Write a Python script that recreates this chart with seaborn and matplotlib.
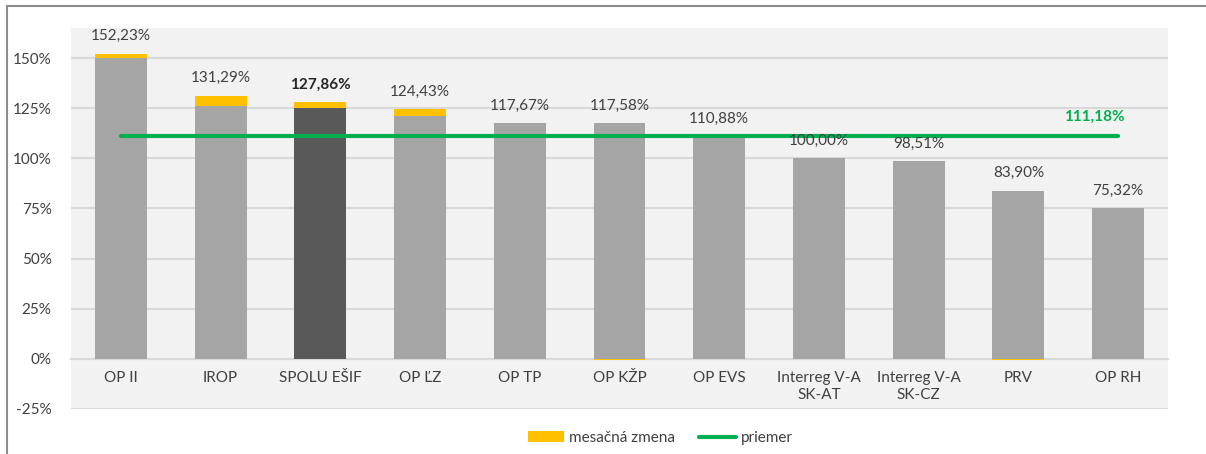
import numpy as np
import seaborn as sns
import matplotlib.pyplot as plt
from matplotlib.lines import Line2D
from matplotlib.patches import Patch

# data (values in %)
programs = ["OP II", "IROP", "SPOLU EŠIF", "OP ĽZ", "OP TP", "OP KŽP", "OP EVS",
            "Interreg V-A\nSK-AT", "Interreg V-A\nSK-CZ", "PRV", "OP RH"]
totals = [152.23, 131.29, 127.86, 124.43, 117.67, 117.58, 110.88, 100.00, 98.51, 83.90, 75.32]
monthly_change = [2.1, 5.0, 2.6, 3.1, 0.0, -0.8, 0.0, 0.0, 0.0, -0.8, 0.0]
average = 111.18
total_label = "SPOLU EŠIF"

GRAY = "#a5a5a5"
DARK = "#595959"
YELLOW = "#ffc000"
GREEN = "#00b050"
BG = "#f2f2f2"
GRID = "#d9d9d9"
TEXT = "#404040"

sns.set_theme(style="white")
plt.rcParams["font.family"] = ["Lato", "DejaVu Sans"]

tot = np.array(totals)
chg = np.array(monthly_change)
base = tot - np.clip(chg, 0, None)
neg = np.clip(chg, None, 0)

fig = plt.figure(figsize=(12.06, 4.54), dpi=100)
ax = fig.add_axes([71 / 1206, 1 - 409 / 454, (1168 - 71) / 1206, (409 - 28) / 454])
ax.set_facecolor(BG)

# yellow = full total, gray base drawn on top of it
bar_kw = dict(width=0.52, saturation=1, linewidth=0, edgecolor="none", ax=ax)
sns.barplot(x=programs, y=tot, color=YELLOW, zorder=2, **bar_kw)
sns.barplot(x=programs, y=neg, color=YELLOW, zorder=3.5, **bar_kw)
pal = [DARK if p == total_label else GRAY for p in programs]
sns.barplot(x=programs, y=base, hue=programs, palette=pal, legend=False,
            zorder=3, **bar_kw)

# average line
ax.plot([0, len(programs) - 1], [average, average], color=GREEN, lw=3,
        solid_capstyle="round", zorder=4)
ax.annotate(f"{average:.2f}%".replace(".", ","), xy=(len(programs) - 1, average),
            xytext=(-17, 9), textcoords="offset points", ha="center", va="bottom",
            color=GREEN, fontsize=11, fontweight="bold")

# value labels
for i, (p, v) in enumerate(zip(programs, totals)):
    ax.annotate(f"{v:.2f}%".replace(".", ","), xy=(i, v), xytext=(0, 7.5),
                textcoords="offset points", ha="center", va="bottom",
                fontsize=11, color="#262626" if p == total_label else TEXT,
                fontweight="bold" if p == total_label else "normal", zorder=5)

ax.set_xlim(-0.5, len(programs) - 0.5)
ax.set_ylim(-25, 165)
ax.set_yticks(np.arange(-25, 151, 25))
ax.set_yticklabels([f"{t}%" for t in range(-25, 151, 25)], fontsize=11, color=TEXT)
ax.yaxis.grid(True, color=GRID, lw=1.5, zorder=0)
ax.set_axisbelow(True)

# category labels sit under the 0% line
ax.spines["bottom"].set_position(("data", 0))
ax.spines["bottom"].set_color(GRID)
ax.spines["bottom"].set_linewidth(1.5)
ax.spines["bottom"].set_zorder(1)
for s in ["top", "right", "left"]:
    ax.spines[s].set_visible(False)
ax.tick_params(axis="x", length=0, pad=9, labelsize=11, labelcolor=TEXT)
ax.tick_params(axis="y", length=0, pad=14)
ax.set_xlabel("")
ax.set_ylabel("")

handles = [Patch(facecolor=YELLOW, edgecolor="none", label="mesačná zmena"),
           Line2D([0], [0], color=GREEN, lw=3, label="priemer")]
fig.legend(handles=handles, loc="center", bbox_to_anchor=(660 / 1206, 1 - 438 / 454),
           ncol=2, frameon=False, fontsize=11, handlelength=2.4, handleheight=0.7,
           handletextpad=0.3, columnspacing=1.6, labelcolor=TEXT)

# chart frame (left and top edges visible)
fig.add_artist(Line2D([7 / 1206, 7 / 1206], [0, 1 - 6 / 454], color="#8c8c8c", lw=1.5))
fig.add_artist(Line2D([7 / 1206, 1], [1 - 6 / 454, 1 - 6 / 454], color="#8c8c8c", lw=1.5))

fig.savefig("out.png", dpi=100, facecolor="white")
